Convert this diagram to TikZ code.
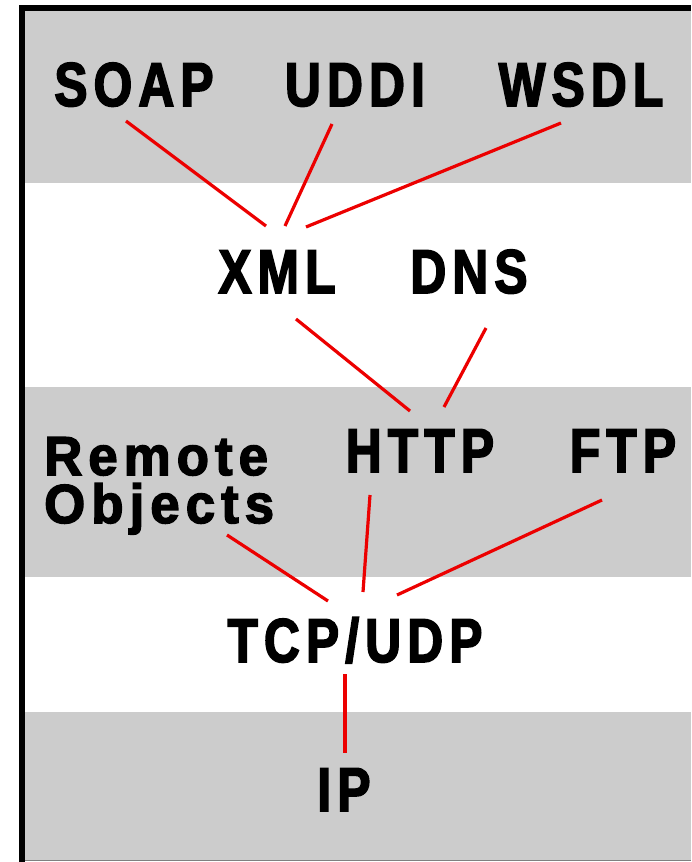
\documentclass[tikz,border=0pt]{standalone}
\usepackage{fontspec}
\usepackage{tikz}
\usetikzlibrary{calc,positioning}
\newfontfamily\layerfont[FakeBold=2.6,FakeStretch=0.8,LetterSpace=10]{Liberation Sans Bold}
\newfontfamily\layerwidefont[FakeBold=2.6,FakeStretch=0.96,LetterSpace=11]{Liberation Sans Bold}
\tikzset{
  proto/.style = {inner sep=0pt, anchor=base, text=black, font=\layerfont\fontsize{62}{62}\selectfont},
  proto_l/.style = {proto, anchor=north west, align=left, font=\layerwidefont\fontsize{55}{48}\selectfont}
}
\definecolor{band_grey}{RGB}{204, 204, 204}
\definecolor{link_red}{RGB}{236, 0, 0}

\begin{document}
\begin{tikzpicture}[x=1pt, y=-1pt,
        	band/.style={fill=band_grey, draw=none},
        	link/.style={draw=link_red, line width=3.2pt}]
		    \useasboundingbox (0,0) rectangle (691,862);
		    % layer bands and frame
		    \fill[band] (25,11) rectangle (691,183);
		    \fill[band] (25,387) rectangle (691,577);
		    \fill[band] (25,712) rectangle (691,860);
		    \draw[gray, line width=1pt] (25,860.5) -- (691,860.5);
		    \fill[black] (19,5) rectangle (691,11);
		    \fill[black] (19,5) rectangle (25,862);
		    % protocols
		    \node [proto] (soap) at (134,106) {SOAP};
		    \node [proto] (uddi) at (355,106) {UDDI};
		    \node [proto] (wsdl) at (581,106) {WSDL};
		    \node [proto] (xml) at (277,293) {XML};
		    \node [proto] (dns) at (469,293) {DNS};
		    \node [proto_l] (remote) at (44,437) {Remote\\Objects};
		    \node [proto] (http) at (420,472) {HTTP};
		    \node [proto] (ftp) at (623,472) {FTP};
		    \node [proto] (tcp) at (355,662) {TCP/UDP};
		    \node [proto] (ip) at (344,811) {IP};
		    % links
		    \draw[link] ($(soap.base)+(-8,15)$) -- ($(xml.base)+(-11,-67)$);
		    \draw[link] ($(uddi.base)+(-23,18)$) -- ($(xml.base)+(8,-67)$);
		    \draw[link] ($(wsdl.base)+(-20,17)$) -- ($(xml.base)+(29,-66)$);
		    \draw[link] ($(xml.base)+(19,26)$) -- ($(http.base)+(-10,-61)$);
		    \draw[link] ($(dns.base)+(17,35)$) -- ($(http.base)+(24,-65)$);
		    \draw[link] ($(remote.north west)+(183,98)$) -- ($(tcp.base)+(-27,-61)$);
		    \draw[link] ($(http.base)+(-50,23)$) -- ($(tcp.base)+(8,-70)$);
		    \draw[link] ($(ftp.base)+(-21,28)$) -- ($(tcp.base)+(42,-67)$);
		    \draw[link] ($(tcp.base)+(-10,12)$) -- ($(ip.base)+(1,-58)$);
		\end{tikzpicture}
\end{document}
